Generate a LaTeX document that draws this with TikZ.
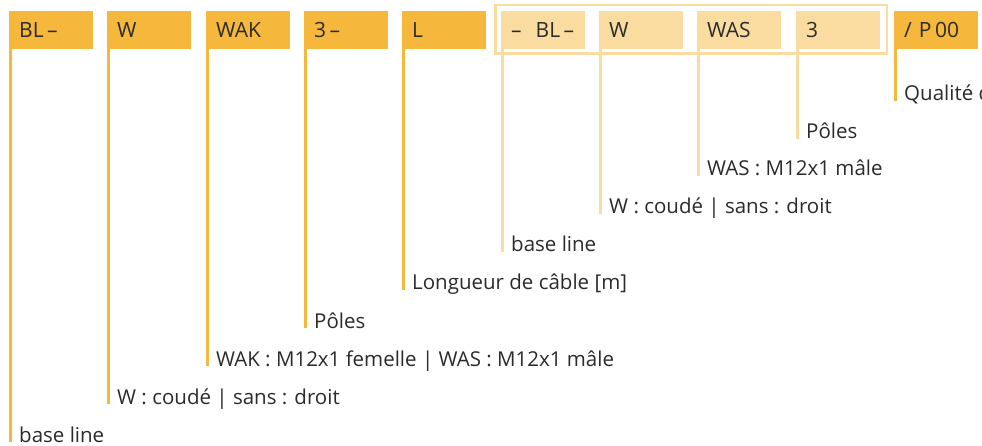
\documentclass[tikz,border=0pt]{standalone}
\usepackage{fontspec}
\setmainfont{Open Sans}
\definecolor{dk}{HTML}{F5B83D}
\definecolor{pl}{HTML}{FBDCA0}
\definecolor{tx}{HTML}{2B2B2B}
\begin{document}
\begin{tikzpicture}[x=1pt,y=-1pt,
  box/.style={anchor=north west,minimum height=38pt,text width=64pt,inner xsep=10pt,inner ysep=0pt,align=left,text=tx,font=\fontsize{21}{24}\selectfont},
  dbox/.style={box,fill=dk},
  pbox/.style={box,fill=pl},
  lab/.style={anchor=base west,inner sep=0pt,text=tx,font=\fontsize{20.5}{24}\selectfont},
  dline/.style={draw=dk,line width=2.5pt},
  pline/.style={draw=pl,line width=2.5pt}]
\useasboundingbox (0,0) rectangle (982,446);
\clip (0,0) rectangle (982,446);
\node[dbox] (b1) at (9,11) {BL\,–};
\node[dbox] (b2) at (107,11) {W};
\node[dbox] (b3) at (206,11) {WAK};
\node[dbox] (b4) at (304,11) {3\,–};
\node[dbox] (b5) at (402,11) {L};
\node[pbox] (b6) at (501,11) {–\ \ BL\,–};
\node[pbox] (b7) at (599,11) {W};
\node[pbox] (b8) at (697,11) {WAS};
\node[pbox] (b9) at (796,11) {3};
\node[dbox] (b10) at (894,11) {/ P\,00};
\draw[pl,line width=2.5pt] (495.25,5.25) rectangle (886.75,53.75);
\node[lab] (l1) at (19,442) {base line};
\node[lab] (l2) at (117,404) {W : coudé | sans : droit};
\node[lab] (l3) at (216,366) {WAK : M12x1 femelle | WAS : M12x1 mâle};
\node[lab] (l4) at (314,328) {Pôles};
\node[lab] (l5) at (412,290) {Longueur de câble [m]};
\node[lab] (l6) at (511,252) {base line};
\node[lab] (l7) at (609,214) {W : coudé | sans : droit};
\node[lab] (l8) at (707,176) {WAS : M12x1 mâle};
\node[lab] (l9) at (806,139) {Pôles};
\node[lab] (l10) at (904,101) {Qualité d};
\foreach \i in {1,2,3,4,5,10}{
  \draw[dline] ([xshift=1.25pt]b\i.south west) -- ([xshift=1.25pt]b\i.south west |- l\i.base);
}
\foreach \i in {6,7,8,9}{
  \draw[pline] ([xshift=1.25pt]b\i.south west) -- ([xshift=1.25pt]b\i.south west |- l\i.base);
}
\end{tikzpicture}
\end{document}
